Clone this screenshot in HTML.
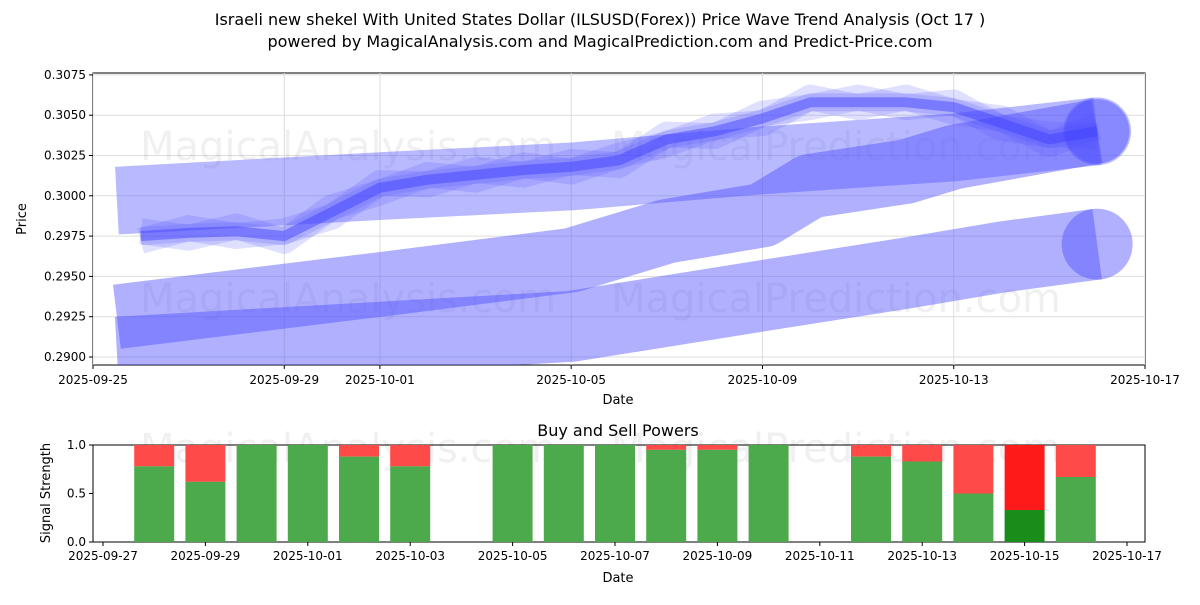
<!DOCTYPE html>
<html><head><meta charset="utf-8"><style>
body{margin:0;background:#fff;font-family:"Liberation Sans","DejaVu Sans",sans-serif}
svg text{font-family:"DejaVu Sans","Liberation Sans",sans-serif}
</style></head><body>
<svg id="c" width="1200" height="600" xmlns="http://www.w3.org/2000/svg">
<text x="600" y="25" font-size="16" text-anchor="middle">Israeli new shekel With United States Dollar (ILSUSD(Forex)) Price Wave Trend Analysis (Oct 17 )</text>
<text x="600" y="47" font-size="16" text-anchor="middle">powered by MagicalAnalysis.com and MagicalPrediction.com and Predict-Price.com</text>
<g id="topg"></g><g id="botg"></g>
</svg>
<script>
// top chart data (days since 2025-09-25)
const mainDays=[1,2,3,4,5,6,7,8,9,10,11,12,13,14,15,16,17,18,19,20,21];
const mainVals=[0.2975,0.2977,0.2978,0.2975,0.2990,0.3005,0.3010,0.3013,0.3016,0.3018,0.3022,0.3035,0.3040,0.3048,0.3058,0.3058,0.3058,0.3055,0.3045,0.3035,0.3040];
const bandADays=[0.5,6,10,14,18,21];
const bandAVals=[0.2997,0.3006,0.3012,0.3022,0.3030,0.3040];
const bandBDays=[0.5,6,10,12,14,15,17,18,21];
const bandBVals=[0.2925,0.2945,0.2960,0.2978,0.2988,0.3006,0.3015,0.3024,0.3040];
const bandCDays=[0.5,10,14,17,19,21];
const bandCVals=[0.2903,0.2919,0.2938,0.2952,0.2962,0.2970];
const yTicks=[0.2900,0.2925,0.2950,0.2975,0.3000,0.3025,0.3050,0.3075];
const xTickDays=[0,4,6,10,14,18,22];
const xTickLabels=["2025-09-25","2025-09-29","2025-10-01","2025-10-05","2025-10-09","2025-10-13","2025-10-17"];
// bottom chart data (days since 2025-09-27)
const barDays=[1,2,3,4,5,6,8,9,10,11,12,13,15,16,17,18,19];
const buyVals=[0.78,0.62,1,1,0.88,0.78,1,1,1,0.95,0.95,1,0.88,0.83,0.5,0.33,0.67];
const bTickDays=[0,2,4,6,8,10,12,14,16,18,20];
const bTickLabels=["2025-09-27","2025-09-29","2025-10-01","2025-10-03","2025-10-05","2025-10-07","2025-10-09","2025-10-11","2025-10-13","2025-10-15","2025-10-17"];
const bYTicks=[0,0.5,1];

const NS="http://www.w3.org/2000/svg";
function mk(p,t,a){const e=document.createElementNS(NS,t);for(const k in a)e.setAttribute(k,a[k]);p.appendChild(e);return e;}
const L=93,R=1145,T=73,B=365;
const xs=d=>L+d*(R-L)/22;
const ys=v=>357-(v-0.29)/0.0025*40.3;
const topG=document.getElementById('topg');
let r=mk(topG,'rect',{x:L,y:T,width:R-L,height:B-T,fill:'#fff',stroke:'#000','stroke-width':1});


const clip=mk(topG,'clipPath',{id:'cp'});mk(clip,'rect',{x:L,y:T,width:R-L,height:B-T});
const g=mk(topG,'g',{'clip-path':'url(#cp)'});
yTicks.forEach(v=>{mk(g,'line',{x1:L,x2:R,y1:ys(v),y2:ys(v),stroke:'#ddd','stroke-width':1});
 mk(topG,'line',{x1:L-4,x2:L,y1:ys(v),y2:ys(v),stroke:'#000'});
 const t=mk(topG,'text',{x:L-7,y:ys(v)+4,'font-size':12,'text-anchor':'end'});t.textContent=v.toFixed(4);
 
 });
xTickDays.forEach((d,i)=>{mk(g,'line',{x1:xs(d),x2:xs(d),y1:T,y2:B,stroke:'#ddd'});
 mk(topG,'line',{x1:xs(d),x2:xs(d),y1:B,y2:B+4,stroke:'#000'});
 const t=mk(topG,'text',{x:xs(d),y:B+19,'font-size':12,'text-anchor':'middle'});t.textContent=xTickLabels[i];
 
 });
[["MagicalAnalysis.com",348,160],["MagicalPrediction.com",836,160],["MagicalAnalysis.com",348,312],["MagicalPrediction.com",836,312]].forEach(w=>{
 const t=mk(g,'text',{x:w[1],y:w[2],'font-size':40,'text-anchor':'middle',fill:'rgba(0,0,0,0.06)'});t.textContent=w[0];
 
 });
const per=0.0025/40.3;
function band(days,vals,wv,name,op){
 const pts=days.map((d,i)=>xs(d)+','+ys(vals[i])).join(' ');
 const w=wv/per;
 const p=mk(g,'polyline',{points:pts,fill:'none',stroke:'rgba(80,80,255,'+op+')','stroke-width':w,'stroke-linejoin':'round'});
 
 
 const n=days.length-1;
 const c=mk(g,'circle',{cx:xs(days[n]),cy:ys(vals[n]),r:w/2,fill:'rgba(80,80,255,'+op+')'});
 
 
}
band(bandCDays,bandCVals,0.0044,'wave-band-low',0.45);
band(bandBDays,bandBVals,0.0040,'wave-band-mid',0.45);
band(bandADays,bandAVals,0.0042,'wave-band-high',0.4);
[[0.0010,-0.0003],[0.0010,0.0003],[0.0007,0]].forEach((s,k)=>{
 const pts=mainDays.map((d,i)=>xs(d)+','+ys(mainVals[i]+(i%2?s[1]:-s[1]))).join(' ');
 const p=mk(g,'polyline',{points:pts,fill:'none',stroke:'rgba(80,80,255,0.18)','stroke-width':s[0]/per*1.6,'stroke-linejoin':'round'});
 
 });
const mp=mk(g,'polyline',{points:mainDays.map((d,i)=>xs(d)+','+ys(mainVals[i])).join(' '),fill:'none',stroke:'rgba(60,60,255,0.45)','stroke-width':10,'stroke-linejoin':'round'});


let t=mk(topG,'text',{x:618,y:404,'font-size':13,'text-anchor':'middle'});t.textContent='Date';

t=mk(topG,'text',{x:26,y:219,'font-size':13,'text-anchor':'middle',transform:'rotate(-90 26 219)'});t.textContent='Price';


// bottom
const botG=document.getElementById('botg');
const BT=445,BB=542;
const bx=d=>103+d*51.2;
const by=v=>BB-v*(BB-BT);
r=mk(botG,'rect',{x:L,y:BT,width:R-L,height:BB-BT,fill:'#fff',stroke:'#000'});

t=mk(botG,'text',{x:618,y:436,'font-size':16,'text-anchor':'middle'});t.textContent='Buy and Sell Powers';

[["MagicalAnalysis.com",348],["MagicalPrediction.com",836]].forEach(w=>{
 const tt=mk(botG,'text',{x:w[1],y:462,'font-size':40,'text-anchor':'middle',fill:'rgba(0,0,0,0.06)'});tt.textContent=w[0];
 });
barDays.forEach((d,i)=>{
 const v=buyVals[i],dark=v<0.4;
 const s=mk(botG,'rect',{x:bx(d)-20,y:by(1),width:40,height:by(v)-by(1),fill:dark?'#ff1a1a':'#ff4a4a'});
 
 const b=mk(botG,'rect',{x:bx(d)-20,y:by(v),width:40,height:BB-by(v),fill:dark?'#1a8c1a':'#4caa4c'});
 
});
bYTicks.forEach(v=>{mk(botG,'line',{x1:L-4,x2:L,y1:by(v),y2:by(v),stroke:'#000'});
 const tt=mk(botG,'text',{x:L-7,y:by(v)+4,'font-size':12,'text-anchor':'end'});tt.textContent=v.toFixed(1);
 });
bTickDays.forEach((d,i)=>{mk(botG,'line',{x1:bx(d),x2:bx(d),y1:BB,y2:BB+4,stroke:'#000'});
 const tt=mk(botG,'text',{x:bx(d),y:BB+18,'font-size':12,'text-anchor':'middle'});tt.textContent=bTickLabels[i];
 });
t=mk(botG,'text',{x:618,y:582,'font-size':13,'text-anchor':'middle'});t.textContent='Date';

t=mk(botG,'text',{x:50,y:493,'font-size':13,'text-anchor':'middle',transform:'rotate(-90 50 493)'});t.textContent='Signal Strength';

</script>
</body></html>
